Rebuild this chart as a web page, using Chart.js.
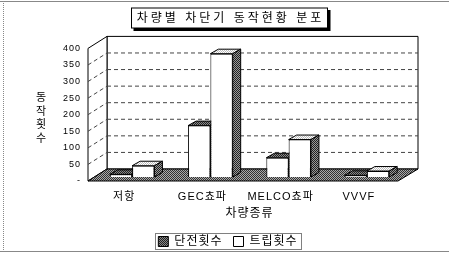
<!DOCTYPE html>
<html>
<head>
<meta charset="utf-8">
<script src="https://cdn.jsdelivr.net/npm/chart.js@4/dist/chart.umd.min.js"></script>
<style>
  html, body { margin: 0; padding: 0; background: #fff; }
  canvas { display: block; }
</style>
</head>
<body>
<canvas id="chart" width="449" height="253"></canvas>
<script>
// data
var categories = ['저항', 'GEC쵸파', 'MELCO쵸파', 'VVVF'];
var seriesNames = ['단전횟수', '트립횟수'];
var outageCounts = [8, 155, 58, 5];
var tripCounts = [34, 372, 113, 18];
var yMax = 400;
var yStep = 50;
var chartTitle = '차량별 차단기 동작현황 분포';
var xTitle = '차량종류';
var yTitle = '동작횟수';

var FONT = "'Liberation Sans', 'Noto Sans CJK KR', sans-serif";

var canvas = document.getElementById('chart');
var ctx = canvas.getContext('2d');

// 2x2 dither pattern, looks like the old printed gray
function dither(dark, light) {
    var c = document.createElement('canvas');
    c.width = 2; c.height = 2;
    var g = c.getContext('2d');
    g.fillStyle = light; g.fillRect(0, 0, 2, 2);
    g.fillStyle = dark; g.fillRect(0, 0, 1, 1); g.fillRect(1, 1, 1, 1);
    return ctx.createPattern(c, 'repeat');
}
var floorFill = dither('#333', '#aaa');
var darkFill = dither('#222', '#888');
var lightFill = dither('#bbb', '#fff');
var sideFill = dither('#222', '#999');

function poly(pts, fill) {
    ctx.beginPath();
    ctx.moveTo(pts[0][0], pts[0][1]);
    for (var i = 1; i < pts.length; i++) ctx.lineTo(pts[i][0], pts[i][1]);
    ctx.closePath();
    if (fill) { ctx.fillStyle = fill; ctx.fill(); }
    ctx.stroke();
}

var spacing = {
    id: 'spacing',
    beforeLayout: function (chart) { chart.ctx.letterSpacing = '1px'; },
    beforeDraw: function (chart) { chart.ctx.letterSpacing = '1px'; }
};

// walls, floor and the top/side faces of the bars
var frame3d = {
    id: 'frame3d',
    beforeDatasetsDraw: function (chart) {
        var a = chart.chartArea, ys = chart.scales.y;
        var front = function (v) { return ys.getPixelForValue(v) + 4; };
        var back = function (v) { return ys.getPixelForValue(v) - 8; };
        var fl = a.left - 5, bl = a.left + 14, br = a.right + 12, fr = a.right - 8;
        ctx.save();
        ctx.strokeStyle = '#000';
        ctx.lineWidth = 1;
        poly([[bl, back(yMax)], [br, back(yMax)], [br, back(0)], [bl, back(0)]], '#fff');
        poly([[fl, front(0)], [fl, front(yMax)], [bl, back(yMax)], [bl, back(0)]], '#fff');
        ctx.setLineDash([4, 3]);
        ctx.strokeStyle = '#444';
        for (var v = yStep; v < yMax; v += yStep) {
            ctx.beginPath();
            ctx.moveTo(bl, back(v)); ctx.lineTo(br, back(v));
            ctx.moveTo(fl, front(v)); ctx.lineTo(bl, back(v));
            ctx.stroke();
        }
        ctx.setLineDash([]);
        ctx.strokeStyle = '#000';
        poly([[fl, front(0)], [fr, front(0)], [br, back(0)], [bl, back(0)]], floorFill);

        var dx = 8, dy = 4.5;
        chart.data.datasets.forEach(function (ds, di) {
            chart.getDatasetMeta(di).data.forEach(function (el) {
                var l = el.x - el.width / 2, r = el.x + el.width / 2;
                poly([[l, el.y], [l + dx, el.y - dy], [r + dx, el.y - dy], [r, el.y]], di === 0 ? darkFill : lightFill);
                poly([[r, el.y], [r + dx, el.y - dy], [r + dx, el.base - dy], [r, el.base]], sideFill);
            });
        });
        ctx.restore();
    },
    afterDraw: function (chart) {
        ctx.save();
        // outer frame
        ctx.strokeStyle = '#888';
        ctx.beginPath();
        ctx.moveTo(0, 1.5); ctx.lineTo(449, 1.5);
        ctx.moveTo(0, 251.5); ctx.lineTo(449, 251.5);
        ctx.stroke();
        ctx.setLineDash([1, 1]);
        ctx.beginPath();
        ctx.moveTo(3.5, 1); ctx.lineTo(3.5, 252);
        ctx.stroke();
        ctx.setLineDash([]);

        // title box with shadow
        ctx.letterSpacing = '3px';
        ctx.font = '12px ' + FONT;
        var tw = ctx.measureText(chartTitle).width - 3;
        var cx = 229;
        var x0 = Math.round(cx - tw / 2 - 6) + 0.5, w = Math.round(tw + 12);
        ctx.fillStyle = '#000';
        ctx.fillRect(x0 + 2, 10, w + 1, 21);
        ctx.fillStyle = '#fff';
        ctx.fillRect(x0, 8, w, 20);
        ctx.strokeStyle = '#000';
        ctx.strokeRect(x0, 8, w, 20);
        ctx.fillStyle = '#000';
        ctx.textAlign = 'left';
        ctx.textBaseline = 'middle';
        ctx.fillText(chartTitle, cx - tw / 2, 18.5);

        // y title, one syllable under the other
        ctx.letterSpacing = '0px';
        ctx.textAlign = 'center';
        ctx.font = '11px ' + FONT;
        for (var i = 0; i < yTitle.length; i++) {
            ctx.fillText(yTitle[i], 41, 98 + i * 13.5);
        }

        // legend border
        var hb = chart.legend.legendHitBoxes;
        var lx = hb[0].left - 3, rx = hb[hb.length - 1].left + hb[hb.length - 1].width + 4;
        ctx.strokeStyle = '#000';
        ctx.setLineDash([1, 1]);
        ctx.strokeRect(Math.round(lx) + 0.5, Math.round(hb[0].top) - 2.5, Math.round(rx - lx), 16);
        ctx.restore();
    }
};

var chart = new Chart(canvas, {
    type: 'bar',
    data: {
        labels: categories,
        datasets: [{
            label: seriesNames[0],
            data: outageCounts,
            backgroundColor: '#fff',
            borderColor: '#000',
            borderWidth: 1
        }, {
            label: seriesNames[1],
            data: tripCounts,
            backgroundColor: '#fff',
            borderColor: '#000',
            borderWidth: 1
        }]
    },
    options: {
        responsive: false,
        animation: false,
        categoryPercentage: 0.57,
        barPercentage: 1,
        layout: { padding: { left: 50, right: 43, top: 0, bottom: 0 } },
        plugins: {
            tooltip: { enabled: false },
            title: {
                display: true,
                text: chartTitle,
                color: 'rgba(0,0,0,0)',
                font: { family: FONT, size: 12, weight: 'normal' },
                padding: { top: 11, bottom: 19 }
            },
            legend: {
                position: 'bottom',
                maxHeight: 28.5,
                labels: {
                    color: '#000',
                    font: { family: FONT, size: 12 },
                    boxWidth: 10,
                    boxHeight: 10,
                    padding: 11,
                    generateLabels: function (c) {
                        return c.data.datasets.map(function (ds, i) {
                            return {
                                text: ds.label,
                                fillStyle: i === 0 ? darkFill : '#fff',
                                strokeStyle: '#000',
                                lineWidth: 1,
                                datasetIndex: i
                            };
                        });
                    }
                }
            }
        },
        scales: {
            x: {
                grid: { display: false, drawTicks: false },
                border: { display: false },
                ticks: { color: '#000', font: { family: FONT, size: 11 }, padding: 13, labelOffset: -8 },
                title: { display: true, text: xTitle, color: '#000', font: { family: FONT, size: 12 }, padding: { top: 4, bottom: 4 } },
                afterFit: function (s) { s.height = 47.5; }
            },
            y: {
                min: 0,
                max: yMax,
                grid: { display: false, drawTicks: false },
                border: { display: false },
                ticks: {
                    stepSize: yStep,
                    color: '#000',
                    font: { family: FONT, size: 9 },
                    padding: 12,
                    labelOffset: 4,
                    callback: function (v) { return v === 0 ? '-' : v; }
                },
                afterFit: function (s) { s.width = 43; }
            }
        }
    },
    plugins: [spacing, frame3d]
});
</script>
</body>
</html>
